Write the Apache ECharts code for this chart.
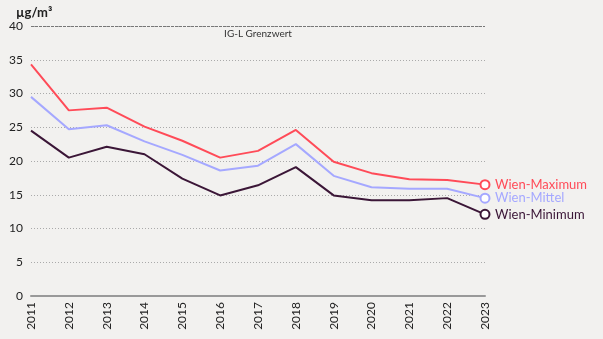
<!DOCTYPE html>
<html><head><meta charset="utf-8">
<script src="https://cdn.jsdelivr.net/npm/echarts@6/dist/echarts.min.js"></script>
<style>html,body{margin:0;padding:0;background:#f2f1ef}#c{width:603px;height:339px}</style>
</head><body><div id="c"></div>
<script>
var years = ['2011','2012','2013','2014','2015','2016','2017','2018','2019','2020','2021','2022','2023'];
var wienMax = [34.3, 27.5, 27.9, 25.1, 23.0, 20.5, 21.5, 24.6, 19.9, 18.2, 17.3, 17.2, 16.5];
var wienMittel = [29.5, 24.7, 25.3, 22.9, 20.9, 18.6, 19.3, 22.5, 17.8, 16.1, 15.9, 15.9, 14.5];
var wienMin = [24.5, 20.5, 22.1, 21.0, 17.4, 14.9, 16.4, 19.1, 14.9, 14.2, 14.2, 14.5, 12.1];
var seriesNames = ['Wien-Maximum', 'Wien-Mittel', 'Wien-Minimum'];
var limitValue = 40;
var limitLabel = 'IG-L Grenzwert';
var unitLabel = 'µg/m³';

var colors = ['#ff4b58', '#a5a8ff', '#3b1637'];
var font = 'Lato';
function mk(name, vals, color, withLimit) {
  var data = vals.map(function (v, i) {
    if (i === vals.length - 1) return { value: v, symbol: 'emptyCircle', symbolSize: 9, itemStyle: { color: color, borderColor: color, borderWidth: 2.5 } };
    return { value: v, symbol: 'none' };
  });
  var s = {
    name: name, type: 'line', data: data, showSymbol: true, symbol: 'none',
    lineStyle: { color: color, width: 2 }, itemStyle: { color: color },
    silent: true, animation: false,
    endLabel: { show: true, formatter: name, color: color, fontFamily: font, fontSize: 13, distance: 10 }
  };
  if (withLimit) {
    s.markLine = {
      symbol: 'none', silent: true, animation: false,
      lineStyle: { color: '#777', type: [3, 1], width: 1 },
      label: { show: true, formatter: limitLabel, position: 'insideMiddleBottom', color: '#333', fontFamily: font, fontSize: 10, distance: 3 },
      data: [{ yAxis: limitValue }]
    };
  }
  return s;
}
var chart = echarts.init(document.getElementById('c'));
chart.setOption({
  backgroundColor: '#f2f1ef',
  animation: false,
  title: { text: unitLabel, left: 11, top: 1, textStyle: { fontFamily: font, fontSize: 13, fontWeight: 'bold', color: '#222' } },
  grid: { left: 31, right: 118, top: 26, bottom: 43 },
  xAxis: {
    type: 'category', data: years, boundaryGap: false,
    axisLine: { lineStyle: { color: '#999', width: 2 } },
    axisTick: { show: false },
    axisLabel: { rotate: 90, color: '#222', fontFamily: font, fontSize: 12, margin: 6, interval: 0 }
  },
  yAxis: {
    type: 'value', min: 0, max: 40, interval: 5,
    axisLine: { show: false }, axisTick: { show: false },
    axisLabel: { color: '#222', fontFamily: font, fontSize: 12, margin: 8 },
    splitLine: { lineStyle: { color: '#aaa', type: [1, 2], width: 1 } }
  },
  series: [
    mk(seriesNames[0], wienMax, colors[0], true),
    mk(seriesNames[1], wienMittel, colors[1], false),
    mk(seriesNames[2], wienMin, colors[2], false)
  ]
});
</script></body></html>
